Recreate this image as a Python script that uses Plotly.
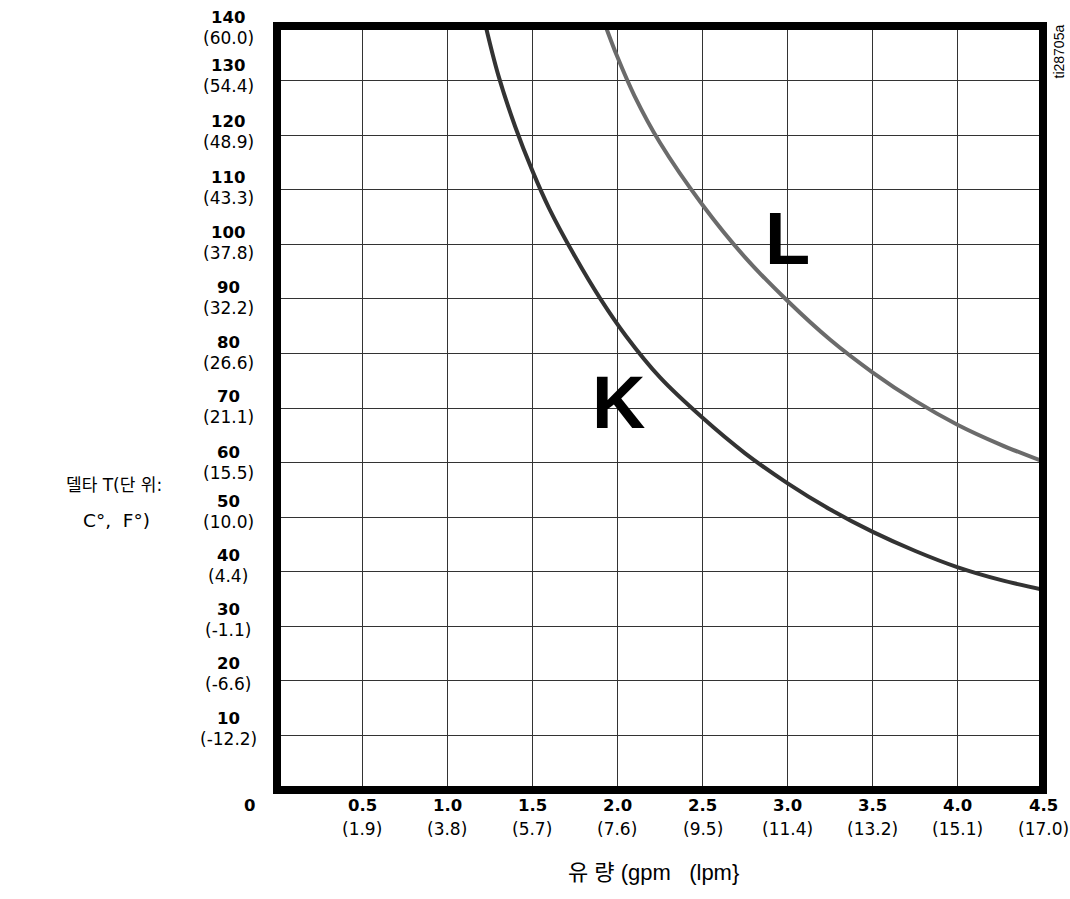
import plotly.graph_objects as go

# ---- data ----
x_ticks = [0.5, 1.0, 1.5, 2.0, 2.5, 3.0, 3.5, 4.0, 4.5]
x_lpm = ["(1.9)", "(3.8)", "(5.7)", "(7.6)", "(9.5)", "(11.4)", "(13.2)", "(15.1)", "(17.0)"]
y_ticks = [140, 130, 120, 110, 100, 90, 80, 70, 60, 50, 40, 30, 20, 10]
y_celsius = ["(60.0)", "(54.4)", "(48.9)", "(43.3)", "(37.8)", "(32.2)", "(26.6)",
             "(21.1)", "(15.5)", "(10.0)", "(4.4)", "(-1.1)", "(-6.6)", "(-12.2)"]

k_flow = [1.226, 1.30, 1.40, 1.50, 1.60, 1.75, 1.90, 2.05, 2.25, 2.50, 2.75, 3.00, 3.25, 3.50, 3.75, 4.00, 4.25, 4.50]
k_delta = [140, 131.0, 121.5, 113.5, 106.5, 97.8, 90.0, 83.2, 75.6, 68.2, 61.7, 56.2, 51.4, 47.3, 43.8, 40.8, 38.5, 36.7]
l_flow = [1.93, 2.00, 2.10, 2.25, 2.50, 2.75, 3.00, 3.25, 3.50, 3.75, 4.00, 4.25, 4.50]
l_delta = [140, 134.3, 127.2, 118.6, 107.2, 97.6, 89.6, 82.5, 76.5, 71.3, 66.9, 63.3, 60.2]

# ---- styling / layout constants ----
y_label_mid_shift = [1.7, -4.7, -3.7, -1.6, -1.2, -1.3, -0.9, -1.0, -0.3, -5.1, -6.0, -6.4, -7.3, -7.1]
Y_GAP = 20.5
LBL_FONT = "DejaVu Sans"
TXT_FONT = "DejaVu Sans, Noto Sans CJK KR, sans-serif"
X_TITLE_FONT = "Liberation Sans, Noto Sans CJK KR, sans-serif"

fig = go.Figure()
fig.add_trace(go.Scatter(x=k_flow, y=k_delta, mode="lines", line=dict(color="#333333", width=4, shape="spline"),
                         showlegend=False, hoverinfo="skip"))
fig.add_trace(go.Scatter(x=l_flow, y=l_delta, mode="lines", line=dict(color="#6b6b6b", width=4, shape="spline"),
                         showlegend=False, hoverinfo="skip"))

ann = []
# y tick labels
for v, c, s in zip(y_ticks, y_celsius, y_label_mid_shift):
    ann.append(dict(x=0, xref="paper", y=v, yref="y", xshift=-49, yshift=Y_GAP / 2 - s,
                    text=f"<b>{v}</b>", showarrow=False, xanchor="center", yanchor="middle",
                    font=dict(family=LBL_FONT, size=16.5, color="black")))
    ann.append(dict(x=0, xref="paper", y=v, yref="y", xshift=-49, yshift=-Y_GAP / 2 - s,
                    text=c, showarrow=False, xanchor="center", yanchor="middle",
                    font=dict(family=LBL_FONT, size=17, color="black")))
# x tick labels
for v, c in zip(x_ticks, x_lpm):
    ann.append(dict(x=v, xref="x", y=0, yref="paper", yshift=-15, text=f"<b>{v:.1f}</b>",
                    showarrow=False, xanchor="center", yanchor="middle",
                    font=dict(family=LBL_FONT, size=16.5, color="black")))
    ann.append(dict(x=v, xref="x", y=0, yref="paper", yshift=-39, text=c,
                    showarrow=False, xanchor="center", yanchor="middle",
                    font=dict(family=LBL_FONT, size=17, color="black")))
# shared origin
ann.append(dict(x=0, xref="x", y=0, yref="paper", xshift=-28, yshift=-15, text="<b>0</b>",
                showarrow=False, xanchor="center", yanchor="middle",
                font=dict(family=LBL_FONT, size=16.5, color="black")))
# curve letters
ann.append(dict(x=3.0, y=100, xref="x", yref="y", yshift=6, text="<b>L</b>", showarrow=False,
                font=dict(family="Liberation Sans", size=74, color="black")))
ann.append(dict(x=2.0, y=71, xref="x", yref="y", xshift=1, text="<b>K</b>", showarrow=False,
                font=dict(family="Liberation Sans", size=74, color="black")))
# axis titles
ann.append(dict(x=0, xref="paper", y=0.5, yref="paper", xshift=-163, yshift=-77,
                text="델타 T(단 위:", showarrow=False, xanchor="center", yanchor="middle",
                font=dict(family=TXT_FONT, size=17, color="black")))
ann.append(dict(x=0, xref="paper", y=0.5, yref="paper", xshift=-161, yshift=-112,
                text="C°,\u00a0\u00a0F°)", showarrow=False, xanchor="center", yanchor="middle",
                font=dict(family=TXT_FONT, size=18.5, color="black")))
ann.append(dict(x=0.5, xref="paper", y=0, yref="paper", xshift=-7, yshift=-82.5,
                text="유 량 (gpm\u00a0\u00a0\u00a0(lpm}", showarrow=False, xanchor="center", yanchor="middle",
                font=dict(family=X_TITLE_FONT, size=22, color="black")))
ann.append(dict(x=1, xref="paper", y=1, yref="paper", xshift=15.5, yshift=-26,
                text="ti28705a", textangle=-90, showarrow=False, xanchor="center", yanchor="middle",
                font=dict(family="Liberation Sans", size=14, color="black")))

fig.update_layout(
    width=1070, height=899,
    margin=dict(l=277, r=27, t=26, b=109),
    paper_bgcolor="white", plot_bgcolor="white",
    annotations=ann,
    shapes=[dict(type="rect", xref="paper", yref="paper", x0=0, x1=1, y0=0, y1=1,
                 line=dict(color="black", width=8), layer="above")],
    xaxis=dict(range=[0, 4.5], tickvals=x_ticks, showticklabels=False, ticks="",
               showgrid=True, gridcolor="#333333", gridwidth=1, zeroline=False, showline=False),
    yaxis=dict(range=[0, 140], tickvals=y_ticks, showticklabels=False, ticks="",
               showgrid=True, gridcolor="#333333", gridwidth=1, zeroline=False, showline=False),
)

fig.write_html("out.html", config={"displayModeBar": False},
               post_script="document.body.style.margin='0';document.body.style.overflow='hidden';")
